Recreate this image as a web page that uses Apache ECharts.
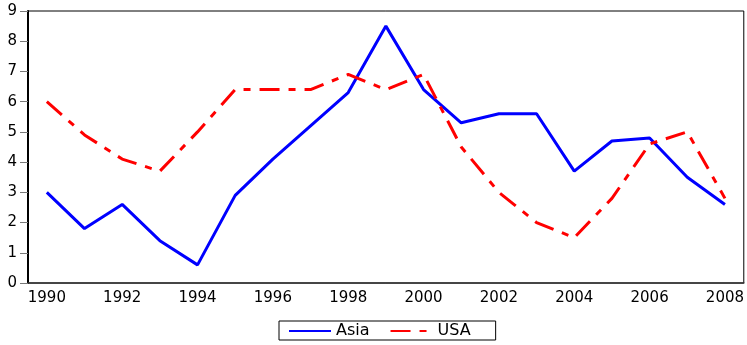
<!DOCTYPE html>
<html><head><meta charset="utf-8">
<script src="https://cdn.jsdelivr.net/npm/echarts@6/dist/echarts.min.js"></script>
<style>html,body{margin:0;padding:0;background:#fff}#c{width:747px;height:345px}</style>
</head><body><div id="c"></div>
<script>
const years = ['1990','1991','1992','1993','1994','1995','1996','1997','1998','1999','2000','2001','2002','2003','2004','2005','2006','2007','2008'];
const asia = [3.0,1.8,2.6,1.4,0.6,2.9,4.1,5.2,6.3,8.5,6.4,5.3,5.6,5.6,3.7,4.7,4.8,3.5,2.6];
const usa  = [6.0,4.9,4.1,3.7,5.0,6.4,6.4,6.4,6.9,6.4,6.9,4.5,3.0,2.0,1.5,2.8,4.6,5.0,2.8];
const yTicks = {min:0, max:9, step:1};
const font = 'DejaVu Sans';
const chart = echarts.init(document.getElementById('c'));
chart.setOption({
  animation:false,
  grid:{left:28,right:2,top:11,bottom:62,show:true,borderColor:'#000',borderWidth:1},
  legend:{
    data:['Asia','USA'], left:279, top:321,
    borderColor:'#000', borderWidth:1, padding:[2,25,1,9],
    itemWidth:42, itemHeight:3, itemGap:20,
    itemStyle:{opacity:0},
    textStyle:{fontFamily:font,fontSize:16,color:'#000'}
  },
  xAxis:{
    type:'category', data:years, boundaryGap:true,
    axisLine:{lineStyle:{color:'#333',width:1.5}},
    axisTick:{interval:0,length:5,lineStyle:{color:'#444'}},
    axisLabel:{interval:1,margin:8,fontFamily:font,fontSize:15,color:'#000'},
    splitLine:{show:false}
  },
  yAxis:{
    type:'value', min:yTicks.min, max:yTicks.max, interval:yTicks.step,
    axisLine:{show:true,lineStyle:{color:'#000',width:2}},
    axisTick:{show:true,length:8,lineStyle:{color:'#777'}},
    axisLabel:{margin:11,fontFamily:font,fontSize:15,color:'#000'},
    splitLine:{show:false}
  },
  series:[
    {name:'Asia',type:'line',data:asia,symbol:'none',lineStyle:{color:'#0000ff',width:3},itemStyle:{color:'#0000ff'}},
    {name:'USA',type:'line',data:usa,symbol:'none',lineStyle:{color:'#ff0000',width:3,type:[20,9,7,9]},itemStyle:{color:'#ff0000'}}
  ]
});
</script></body></html>
